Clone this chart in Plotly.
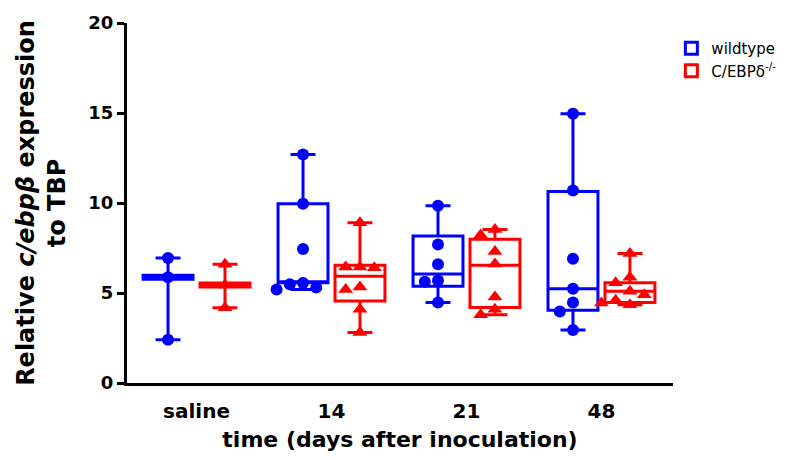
import plotly.graph_objects as go

# ---------------- data ----------------
groups = ["saline", "14", "21", "48"]

wt_values = [
    [6.95, 5.88, 2.4],
    [12.7, 9.96, 7.45, 5.56, 5.48, 5.3, 5.2],
    [9.85, 7.7, 6.6, 5.7, 5.62, 4.47],
    [14.96, 10.69, 6.9, 5.24, 4.47, 3.97, 2.95],
]
ko_values = [
    [6.6, 5.44, 4.18],
    [8.9, 6.45, 6.4, 6.45, 5.33, 5.2, 4.1, 2.8],
    [8.53, 8.22, 7.3, 6.61, 4.78, 4.1, 3.79],
    [7.2, 5.88, 5.57, 5.1, 4.9, 4.6, 4.45, 4.35],
]
wt_q1 = [5.77, 5.57, 5.38, 4.04]
wt_median = [5.88, 5.6, 6.05, 5.24]
wt_q3 = [5.99, 9.96, 8.17, 10.64]
ko_q1 = [5.33, 4.56, 4.19, 4.47]
ko_median = [5.44, 5.93, 6.54, 5.1]
ko_q3 = [5.55, 6.54, 7.98, 5.57]

# ---------------- layout constants ----------------
W, H = 799, 460
margin = dict(l=127, r=126, t=19, b=77)
x_range = [-0.515, 3.53]
y_range = [0, 20]
offset = 0.211
box_width = 0.37
BLUE = "#0000FF"
RED = "#FF0000"
FONT = "DejaVu Sans"

plot_w = W - margin["l"] - margin["r"]
plot_h = H - margin["t"] - margin["b"]
px_x = plot_w / (x_range[1] - x_range[0])
px_y = plot_h / (y_range[1] - y_range[0])


def swarm(vals, diam):
    """simple beeswarm: horizontal offsets (data units) so markers don't overlap"""
    order = sorted(range(len(vals)), key=lambda i: -vals[i])
    placed = []
    res = [0.0] * len(vals)
    step = diam * 0.55
    cands = [0.0]
    for n in range(1, 12):
        cands += [-n * step, n * step]
    for i in order:
        yp = vals[i] * px_y
        for c in cands:
            ok = all(((c - px) ** 2 + (yp - py) ** 2) ** 0.5 >= diam * 0.95 for px, py in placed)
            if ok:
                placed.append((c, yp))
                res[i] = c / px_x
                break
    return res


fig = go.Figure()

series = [
    ("wildtype", wt_values, wt_q1, wt_median, wt_q3, -offset, BLUE, "circle", 12),
    ("C/EBPδ<sup>-/-</sup>", ko_values, ko_q1, ko_median, ko_q3, offset, RED, "triangle-up", 13),
]

for name, vals, q1, med, q3, off, col, sym, msize in series:
    xs = [i + off for i in range(len(groups))]
    fig.add_trace(go.Box(
        x=xs, q1=q1, median=med, q3=q3,
        lowerfence=[min(v) for v in vals], upperfence=[max(v) for v in vals],
        width=box_width, whiskerwidth=0.5,
        line=dict(color=col, width=3), fillcolor="rgba(255,255,255,0)",
        boxpoints=False, name=name, showlegend=True, hoverinfo="skip",
    ))

for name, vals, q1, med, q3, off, col, sym, msize in series:
    px_, py_ = [], []
    for i, v in enumerate(vals):
        offs = swarm(v, msize)
        px_ += [i + off + o for o in offs]
        py_ += v
    fig.add_trace(go.Scatter(
        x=px_, y=py_, mode="markers",
        marker=dict(symbol=sym, size=msize, color=col, line=dict(width=0)),
        showlegend=False, hoverinfo="skip",
    ))

fig.update_layout(
    width=W, height=H, margin=margin,
    paper_bgcolor="white", plot_bgcolor="white",
    font=dict(family=FONT, color="black"),
    showlegend=True,
    legend=dict(x=0.997, y=0.975, xanchor="left", yanchor="top",
                font=dict(family=FONT, size=15, color="black"),
                bgcolor="rgba(0,0,0,0)", tracegroupgap=0),
    xaxis=dict(
        range=x_range, tickvals=list(range(len(groups))), ticktext=groups,
        showline=True, linewidth=3, linecolor="black", ticks="",
        showgrid=False, zeroline=False, ticklabelstandoff=8,
        tickfont=dict(family=FONT, size=20, weight="bold", color="black"),
        title=dict(text="time (days after inoculation)", standoff=10,
                   font=dict(family=FONT, size=22, weight="bold", color="black")),
    ),
    yaxis=dict(
        range=y_range, tickvals=[0, 5, 10, 15, 20],
        showline=True, linewidth=3, linecolor="black",
        ticks="outside", ticklen=7, tickwidth=2.5, tickcolor="black",
        showgrid=False, zeroline=False,
        tickfont=dict(family=FONT, size=18, weight="bold", color="black"),
        title=dict(text="Relative <i>c/ebpβ</i> expression<br>to TBP", standoff=16,
                   font=dict(family=FONT, size=24, weight="bold", color="black")),
    ),
)

fig.write_html("out.html", config={"displayModeBar": False},
               post_script="document.body.style.margin='0';")
